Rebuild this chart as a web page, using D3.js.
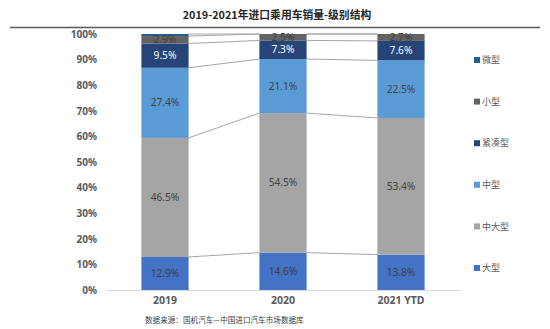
<!DOCTYPE html>
<html><head><meta charset="utf-8">
<script src="https://cdn.jsdelivr.net/npm/d3@7"></script>
<style>body{margin:0;background:#fff;}svg{display:block;font-family:"Noto Sans CJK SC","Noto Sans",sans-serif;}</style>
</head><body><svg id="c" width="550" height="329"></svg>
<script>
const categories = ["2019", "2020", "2021 YTD"];
const seriesNames = ["大型", "中大型", "中型", "紧凑型", "小型", "微型"];
const v_daxing = [12.9, 14.6, 13.8];
const v_zhongdaxing = [46.5, 54.5, 53.4];
const v_zhongxing = [27.4, 21.1, 22.5];
const v_jincou = [9.5, 7.3, 7.6];
const v_xiaoxing = [2.9, 2.5, 2.7];
const v_weixing = [0.8, 0.0, 0.0];
const yTicks = [0,10,20,30,40,50,60,70,80,90,100];
const colors = ["#4472C4", "#A5A5A5", "#5B9BD5", "#264478", "#636363", "#255E91"];
const labelColors = ["#404040", "#404040", "#404040", "#ffffff", "#404040", "#404040"];
const title = "2019-2021年进口乘用车销量-级别结构";
const source = "数据来源：国机汽车—中国进口汽车市场数据库";

const values = [v_daxing, v_zhongdaxing, v_zhongxing, v_jincou, v_xiaoxing, v_weixing];
const data = categories.map((c, i) => {
  const o = {cat: c};
  seriesNames.forEach((s, j) => o[s] = values[j][i]);
  return o;
});
const stacked = d3.stack().keys(seriesNames)(data);

const svg = d3.select("#c");
const x = d3.scaleBand().domain(categories).range([106, 460]).paddingInner(0.6).paddingOuter(0.3);
const y = d3.scaleLinear().domain([0, 100]).range([290, 34]);

// title
svg.append("text").attr("x", 277).attr("y", 19).attr("text-anchor", "middle")
  .attr("font-size", 10.8).attr("font-weight", "bold").attr("fill", "#262626").text(title);
svg.append("line").attr("x1", 10).attr("x2", 540).attr("y1", 27.5).attr("y2", 27.5)
  .attr("stroke", "#595959").attr("stroke-width", 1.5);

// y axis labels
const yAxis = d3.axisLeft(y).tickValues(yTicks).tickFormat(d => d + "%").tickSize(0).tickPadding(9);
const ya = svg.append("g").attr("transform", "translate(106,0)").call(yAxis);
ya.select(".domain").remove();
ya.selectAll("text").attr("font-size", 10).attr("font-weight", "bold").attr("fill", "#595959")
  .attr("font-family", "'Noto Sans','Noto Sans CJK SC',sans-serif");

// x axis
const xAxis = d3.axisBottom(x).tickSize(0).tickPadding(7);
const xa = svg.append("g").attr("transform", "translate(0,290)").call(xAxis);
xa.select(".domain").attr("stroke", "#D9D9D9");
xa.selectAll("text").attr("font-size", 10.5).attr("font-weight", "bold").attr("fill", "#595959")
  .attr("font-family", "'Noto Sans','Noto Sans CJK SC',sans-serif");

// series lines
stacked.forEach((layer) => {
  for (let i = 0; i < categories.length - 1; i++) {
    svg.append("line")
      .attr("x1", x(categories[i]) + x.bandwidth()).attr("y1", y(layer[i][1]))
      .attr("x2", x(categories[i + 1])).attr("y2", y(layer[i + 1][1]))
      .attr("stroke", "#A6A6A6").attr("stroke-width", 1);
  }
});

// bars
stacked.forEach((layer, j) => {
  svg.append("g").selectAll("rect").data(layer).join("rect")
    .attr("x", (d, i) => x(categories[i]))
    .attr("width", x.bandwidth())
    .attr("y", d => y(d[1]))
    .attr("height", d => y(d[0]) - y(d[1]))
    .attr("fill", colors[j]);
});

// labels
stacked.forEach((layer, j) => {
  layer.forEach((d, i) => {
    const val = values[j][i];
    if (val < 2) return;
    svg.append("text")
      .attr("x", x(categories[i]) + x.bandwidth() / 2)
      .attr("y", (y(d[0]) + y(d[1])) / 2)
      .attr("dy", "0.35em").attr("text-anchor", "middle")
      .attr("font-size", 10.2).attr("fill", labelColors[j])
      .attr("font-family", "'Noto Sans','Noto Sans CJK SC',sans-serif")
      .text(val.toFixed(1) + "%");
  });
});

// legend
const legendOrder = seriesNames.map((s, j) => j).reverse();
legendOrder.forEach((j, k) => {
  const ly = 60 + k * 41.6;
  svg.append("rect").attr("x", 474).attr("y", ly - 3).attr("width", 6).attr("height", 6).attr("fill", colors[j]);
  svg.append("text").attr("x", 482).attr("y", ly).attr("dy", "0.35em")
    .attr("font-size", 9).attr("fill", "#595959").text(seriesNames[j]);
});

// source
svg.append("text").attr("x", 145).attr("y", 320).attr("dy", "0.35em")
  .attr("font-size", 7.6).attr("fill", "#404040").text(source);
</script>
</body></html>
